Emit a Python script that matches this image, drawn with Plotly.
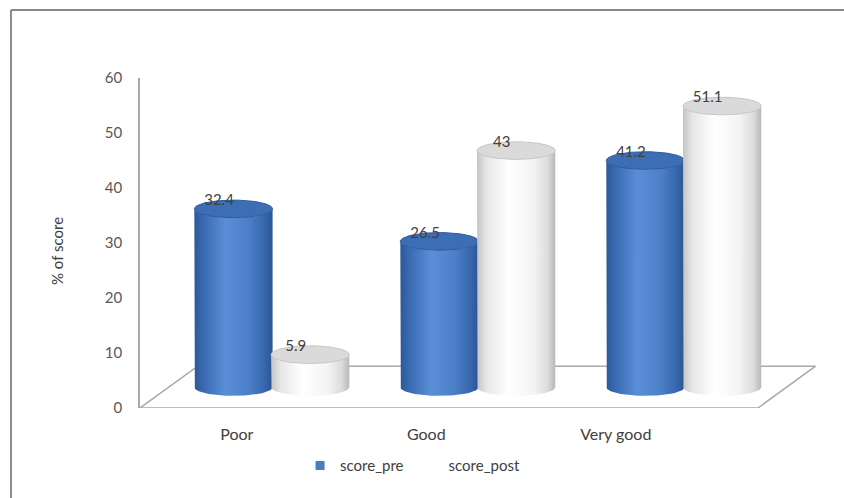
import numpy as np
import plotly.graph_objects as go

# Survey result shares (% of score) before and after
categories = ["Poor", "Good", "Very good"]
score_pre = [32.4, 26.5, 41.2]
score_post = [5.9, 43.0, 51.1]
series_names = ["score_pre", "score_post"]
y_ticks = [0, 10, 20, 30, 40, 50, 60]

# Pseudo-3D layout parameters (x in category units, y in value units)
DEPTH_X, DEPTH_Y = 0.28, 7.6        # floor depth vector
MID_X, MID_Y = DEPTH_X / 2, DEPTH_Y / 2
RX, RY = 0.19, 1.6                  # cylinder ellipse radii
LABEL_POS = [i * 0.92 - 0.03 for i in range(len(categories))]

BLUE_BODY = [[0.0, "#2c5896"], [0.12, "#3a6bb2"], [0.4, "#5a8fd7"],
             [0.7, "#4b7fc7"], [0.9, "#3766ab"], [1.0, "#2b5593"]]
WHITE_BODY = [[0.0, "#c4c4c4"], [0.12, "#e6e6e6"], [0.4, "#ffffff"],
              [0.72, "#f4f4f4"], [0.9, "#dcdcdc"], [1.0, "#b8b8b8"]]
STYLES = {
    "score_pre": dict(body=BLUE_BODY, top="#3d6db5", rim="#2f5b9c", legend="#4a7cc4"),
    "score_post": dict(body=WHITE_BODY, top="#dadada", rim="#c6c6c6", legend="#ffffff"),
}

fig = go.Figure()

# Floor of the 3D plot area
n = len(categories)
x0, x1 = -0.5, n - 0.5
floor_x = [x0, x1, x1 + DEPTH_X, x0 + DEPTH_X, x0]
floor_y = [0, 0, DEPTH_Y, DEPTH_Y, 0]
fig.add_trace(go.Scatter(x=floor_x, y=floor_y, mode="lines",
                         line=dict(color="#a9a9a9", width=1.5),
                         fill="toself", fillcolor="#ffffff",
                         hoverinfo="skip", showlegend=False, cliponaxis=False))

t = np.linspace(0, np.pi, 40)
full = np.linspace(0, 2 * np.pi, 80)


def cylinder(cx, value, style):
    base = MID_Y
    top = base + value
    xs = [cx - RX, cx - RX]
    ys = [top, base]
    xs += list(cx - RX * np.cos(t))
    ys += list(base - RY * np.sin(t))
    xs += [cx + RX, cx + RX]
    ys += [base, top]
    xs += list(cx + RX * np.cos(t))
    ys += list(top - RY * np.sin(t))
    fig.add_trace(go.Scatter(
        x=xs, y=ys, mode="lines", line=dict(width=0),
        fill="toself",
        fillgradient=dict(type="horizontal", colorscale=style["body"]),
        hoverinfo="skip", showlegend=False, cliponaxis=False))
    fig.add_trace(go.Scatter(
        x=list(cx + RX * np.cos(full)), y=list(top + RY * np.sin(full)),
        mode="lines", line=dict(color=style["rim"], width=1),
        fill="toself", fillcolor=style["top"],
        hoverinfo="skip", showlegend=False, cliponaxis=False))


label_x, label_y, label_t = [], [], []
for i in range(n):
    for k, (name, vals) in enumerate(zip(series_names, [score_pre, score_post])):
        cx = i + MID_X + (k - 0.5) * 2 * RX * 0.98
        cylinder(cx, vals[i], STYLES[name])
        label_x.append(cx - MID_X / 2)
        label_y.append(MID_Y + vals[i])
        label_t.append(f"{vals[i]:g}")

fig.add_trace(go.Scatter(x=label_x, y=label_y, text=label_t, mode="text",
                         textposition="top center",
                         textfont=dict(family="Lato", size=15, color="#404040"),
                         hoverinfo="skip", showlegend=False, cliponaxis=False))

# Legend entries
for name in series_names:
    fig.add_trace(go.Scatter(x=[None], y=[None], mode="markers", name=name,
                             marker=dict(symbol="square", size=9,
                                         color=STYLES[name]["legend"],
                                         line=dict(width=0))))

# Chart frame: only the left and top edges fall inside the page
frame = dict(type="line", xref="paper", yref="paper",
             line=dict(color="#8a8a8a", width=2), layer="below")

fig.update_layout(
    width=844, height=498,
    margin=dict(l=140, r=14, t=78, b=90),
    paper_bgcolor="#ffffff", plot_bgcolor="#ffffff",
    font=dict(family="Lato", size=15, color="#595959"),
    showlegend=True,
    legend=dict(orientation="h", x=0.395, xanchor="center", y=-0.175,
                yanchor="middle", font=dict(size=15, color="#404040"),
                itemclick=False, bgcolor="rgba(0,0,0,0)"),
    xaxis=dict(range=[x0, x1 + 0.35], showgrid=False, zeroline=False,
               showline=False, tickvals=LABEL_POS, ticktext=categories,
               ticks="", ticklabelstandoff=15,
               tickfont=dict(size=16, color="#404040")),
    yaxis=dict(range=[0, 60], tickvals=y_ticks, showgrid=False, zeroline=False,
               showline=True, linecolor="#a9a9a9", linewidth=1.5,
               ticks="", ticklabelstandoff=13,
               tickfont=dict(size=15, color="#595959")),
    annotations=[dict(text="% of score", xref="paper", yref="paper",
                      x=(57 - 140) / 690, y=(408 - 251) / 330,
                      xanchor="center", yanchor="middle", textangle=-90,
                      showarrow=False, font=dict(size=15, color="#404040"))],
    shapes=[
        dict(frame, x0=-0.187, x1=-0.187, y0=-0.5, y1=1.206),
        dict(frame, x0=-0.187, x1=1.2, y0=1.206, y1=1.206),
    ],
)

fig.write_html("out.html")
